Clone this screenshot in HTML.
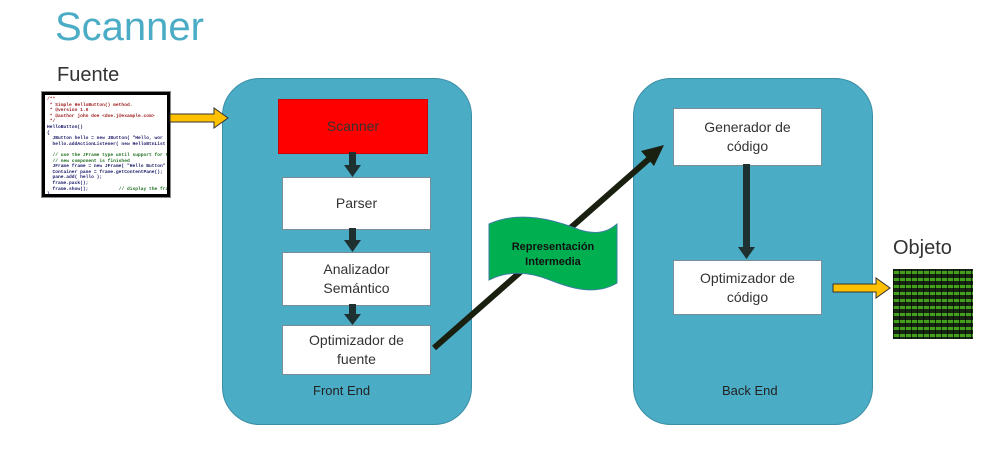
<!DOCTYPE html>
<html><head><style>
body{margin:0;width:1006px;height:451px;background:#fff;position:relative;overflow:hidden;font-family:"Liberation Sans",sans-serif}
.a{position:absolute}
.panel{background:#4bacc6;border:1px solid #3a8ea5;border-radius:38px}
.box{background:#fff;border:1px solid #7a8d96;display:flex;align-items:center;justify-content:center;text-align:center;font-size:14px;color:#333;line-height:19px}
.lbl{font-size:13px;color:#222}
.code{font-family:"Liberation Mono",monospace;font-size:4.6px;font-weight:bold;line-height:5.6px;white-space:pre;color:#1a1a6a}
</style></head><body>
<div class="a" style="left:55px;top:5px;font-size:40px;color:#4bacc6">Scanner</div>
<div class="a" style="left:57px;top:64px;font-size:20px;color:#333">Fuente</div>
<div class="a" style="left:893px;top:237px;font-size:20px;color:#333">Objeto</div>

<div class="a panel" style="left:222px;top:78px;width:248px;height:345px"></div>
<div class="a panel" style="left:633px;top:78px;width:238px;height:345px"></div>

<div class="a box" style="left:278px;top:99px;width:148px;height:53px;background:#ff0000;border-color:#c00">Scanner</div>
<div class="a box" style="left:282px;top:177px;width:147px;height:51px">Parser</div>
<div class="a box" style="left:282px;top:252px;width:147px;height:52px">Analizador<br>Semántico</div>
<div class="a box" style="left:282px;top:325px;width:147px;height:48px">Optimizador de<br>fuente</div>
<div class="a box" style="left:673px;top:108px;width:147px;height:56px">Generador de<br>código</div>
<div class="a box" style="left:673px;top:260px;width:147px;height:53px">Optimizador de<br>código</div>
<div class="a lbl" style="left:313px;top:383px">Front End</div>
<div class="a lbl" style="left:722px;top:383px">Back End</div>

<div class="a" style="left:42px;top:92px;width:118px;height:95px;border:3px solid #000;outline:1px solid #888;background:#fff;padding:2px;box-sizing:content-box;overflow:hidden">
<div class="code"><span style="color:#a02020">/**
 * Simple HelloButton() method.
 * @version 1.0
 * @author john doe &lt;doe.j@example.com&gt;
 */</span>
HelloButton()
{
  JButton hello = new JButton( "Hello, wor
  hello.addActionListener( new HelloBtnList

  <span style="color:#207020">// use the JFrame type until support for t
  // new component is finished</span>
  JFrame frame = new JFrame( "Hello Button"
  Container pane = frame.getContentPane();
  pane.add( hello );
  frame.pack();
  frame.show();           <span style="color:#207020">// display the fra</span>
}</div></div>

<div class="a" style="left:893px;top:269px;width:80px;height:70px;background:repeating-linear-gradient(0deg,#0a1a05 0 2px,#3a9a10 2px 5px,#0a1a05 5px 7px),#000;opacity:.95"></div>
<div class="a" style="left:893px;top:269px;width:80px;height:70px;background:repeating-linear-gradient(90deg,rgba(0,0,0,.7) 0 1px,transparent 1px 6px)"></div>

<svg class="a" style="left:0;top:0" width="1006" height="451">
<polygon points="170,114 214,114 214,108 228,118 214,128 214,122 170,122" fill="#ffc000" stroke="#333" stroke-width="1"/>
<polygon points="833,284 876,284 876,278 890,288 876,298 876,292 833,292" fill="#ffc000" stroke="#333" stroke-width="1"/>
<g fill="#1e3030">
<rect x="349" y="152" width="7" height="14"/><polygon points="344,165 361,165 352.5,177"/>
<rect x="349" y="228" width="7" height="13"/><polygon points="344,240 361,240 352.5,252"/>
<rect x="349" y="304" width="7" height="11"/><polygon points="344,314 361,314 352.5,325"/>
<rect x="743" y="164" width="7" height="84"/><polygon points="738,247 755,247 746.5,259"/>
</g>
<line x1="434" y1="348" x2="650" y2="158" stroke="#1a2010" stroke-width="6"/>
<polygon points="664,145 641,151 654,166" fill="#1a2010"/>
<path d="M489,224 C520,210 555,220 580,230 C600,236 610,230 617,224 L617,283 C595,296 570,288 550,280 C525,270 505,272 489,280 Z" fill="#00b050" stroke="#3a7fa0" stroke-width="1"/>
<text x="553" y="250" font-size="11" font-weight="bold" text-anchor="middle" fill="#111" font-family="Liberation Sans">Representación</text>
<text x="553" y="265" font-size="11" font-weight="bold" text-anchor="middle" fill="#111" font-family="Liberation Sans">Intermedia</text>
</svg>
</body></html>
